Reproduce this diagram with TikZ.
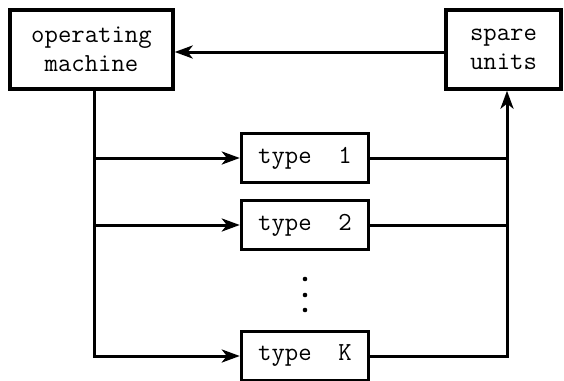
\documentclass[tikz,border=0pt]{standalone}
\usetikzlibrary{arrows.meta}
\begin{document}
\begin{tikzpicture}[x=1pt,y=-1pt,
  box/.style={draw, line width=3.4pt, inner sep=0pt, font=\ttfamily\fontsize{26}{29}\selectfont, align=center},
  typebox/.style={box, minimum width=127pt, minimum height=49pt},
  conn/.style={line width=3pt, line cap=rect},
  arr/.style={conn, -{Stealth[length=18pt,width=13pt,inset=5pt]}}]
\useasboundingbox (0,0) rectangle (564,380);
\node[box, minimum width=163pt, minimum height=79pt] (op) at (91.5,49.5) {operating\\machine};
\node[box, minimum width=115pt, minimum height=79pt] (sp) at (503.5,49.5) {spare\\units};
\node[typebox] (t1) at (305,158) {type~~1};
\node[typebox] (t2) at (305,225) {type~~2};
\node[typebox] (tK) at (305,356) {type~~K};
\coordinate (L) at (94,0);
\coordinate (R) at (507,0);
\draw[arr] (sp.west |- 0,52) -- (op.east |- 0,52);
\draw[conn] (op.south -| L) -- (tK.west -| L);
\draw[arr] (tK.west -| L) -- (tK.west);
\draw[arr] (t1.west -| L) -- (t1.west);
\draw[arr] (t2.west -| L) -- (t2.west);
\draw[conn] (t1.east) -- (t1.east -| R);
\draw[conn] (t2.east) -- (t2.east -| R);
\draw[arr] (tK.east) -- (tK.east -| R) -- (sp.south -| R);
\foreach \y in {279,295,310} \fill (305,\y) circle (2.3pt);
\end{tikzpicture}
\end{document}
